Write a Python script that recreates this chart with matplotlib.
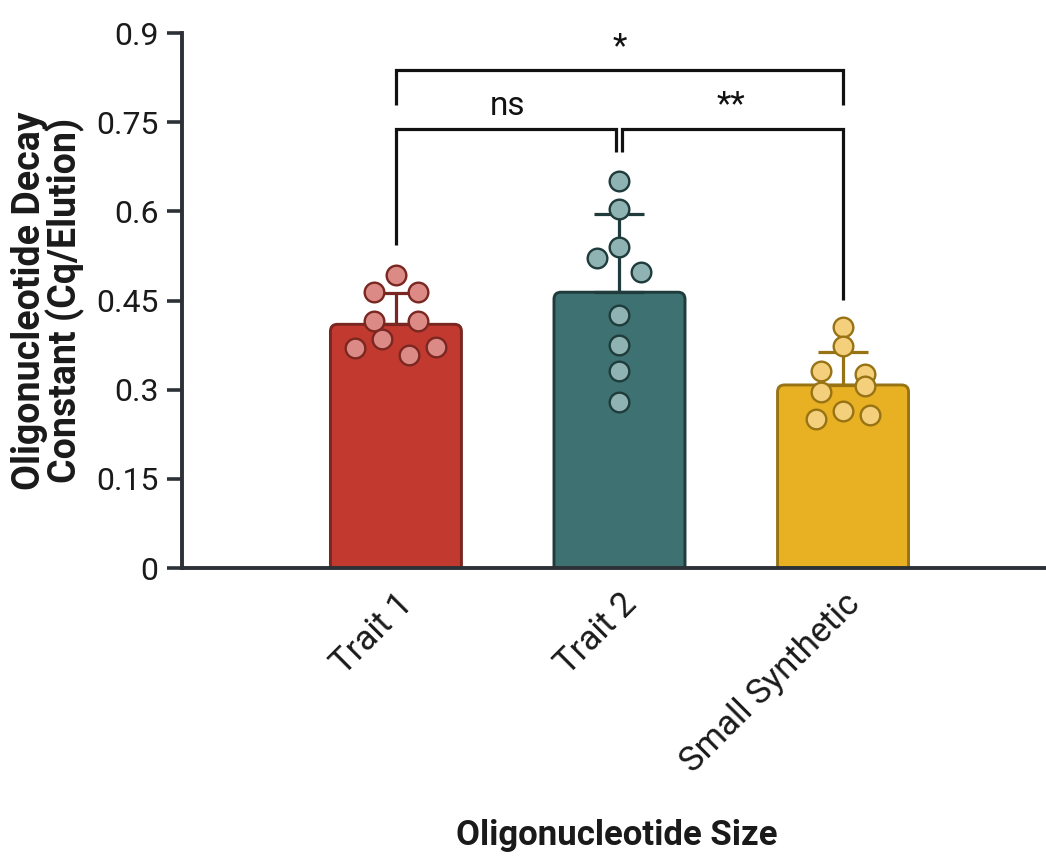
import numpy as np
import matplotlib

matplotlib.use("Agg")
import matplotlib.pyplot as plt
from matplotlib.patches import FancyBboxPatch

plt.rcParams["font.family"] = ["Roboto", "DejaVu Sans"]

categories = ["Trait 1", "Trait 2", "Small Synthetic"]
means = [0.410, 0.464, 0.308]
sd_upper = [0.463, 0.596, 0.363]
points = [
    [0.493, 0.464, 0.464, 0.416, 0.416, 0.370, 0.385, 0.358, 0.372],
    [0.651, 0.604, 0.540, 0.522, 0.498, 0.426, 0.375, 0.332, 0.279],
    [0.405, 0.373, 0.331, 0.326, 0.296, 0.306, 0.251, 0.264, 0.257],
]
yticks = [0, 0.15, 0.3, 0.45, 0.6, 0.75, 0.9]
ytick_labels = ["0", "0.15", "0.3", "0.45", "0.6", "0.75", "0.9"]
# (left group, right group, label)
comparisons = [(0, 1, "ns"), (1, 2, "**"), (0, 2, "*")]

bar_fill = ["#c1392f", "#3e7171", "#e8b023"]
bar_edge = ["#7a2621", "#1f3b3b", "#987314"]
dot_fill = ["#dc8a86", "#8fb2b2", "#f4cf7c"]
axis_color = "#2b3137"

fig = plt.figure(figsize=(10.46, 8.56), dpi=100)
ax = fig.add_axes([0.174, 0.3364, 0.8365, 0.625])
x = np.arange(len(categories))
ax.set_xlim(-0.957, 2.957)
ax.set_ylim(0, 0.9)

# pixel scale of data units, used for rounded corners and the scatter layout
px_x = ax.transData.transform((1, 0))[0] - ax.transData.transform((0, 0))[0]
px_y = ax.transData.transform((0, 1))[1] - ax.transData.transform((0, 0))[1]

width = 0.586
radius_px = 7
for i, m in enumerate(means):
    r = radius_px / px_x
    box = FancyBboxPatch(
        (x[i] - width / 2, -radius_px / px_y), width, m + radius_px / px_y,
        boxstyle=f"round,pad=0,rounding_size={r}",
        mutation_aspect=px_x / px_y,
        facecolor=bar_fill[i], edgecolor=bar_edge[i], linewidth=2.1, zorder=2,
    )
    ax.add_patch(box)
    ax.errorbar(x[i], m, yerr=[[0], [sd_upper[i] - m]], fmt="none",
                ecolor=bar_edge[i], elinewidth=2.3, capsize=18, capthick=2.3,
                zorder=3)


def row_offsets(values, thr=17):
    # points closer than thr pixels share a row and are spread sideways
    vals = np.asarray(values)
    order = np.argsort(vals, kind="stable")
    rows, cur = [], [order[0]]
    for k in order[1:]:
        if (vals[k] - vals[cur[0]]) * px_y < thr:
            cur.append(k)
        else:
            rows.append(cur)
            cur = [k]
    rows.append(cur)
    offs = np.zeros(len(vals))
    for row in rows:
        n = len(row)
        if n == 1:
            continue
        spread = max(44, 27 * (n - 1))
        row = sorted(row)
        for j, k in enumerate(row):
            offs[k] = (-spread / 2 + spread * j / (n - 1)) / px_x
    return offs


for i, vals in enumerate(points):
    offs = row_offsets(vals)
    ax.scatter(x[i] + offs, vals, s=200, facecolor=dot_fill[i],
               edgecolor=bar_edge[i], linewidth=1.7, zorder=4, clip_on=False)

# significance brackets
bracket = dict(color="#111111", lw=2.3, solid_capstyle="butt",
               solid_joinstyle="miter", clip_on=False, zorder=5)
gap = 3 / px_x
tops = {(0, 1): 0.739, (1, 2): 0.739, (0, 2): 0.838}
legs = {(0, 1): (0.543, 0.700), (1, 2): (0.700, 0.451), (0, 2): (0.779, 0.779)}
for a, b, lab in comparisons:
    yb = tops[(a, b)]
    la, lb = legs[(a, b)]
    xa = x[a] + (gap if a == 1 else 0)
    xb = x[b] - (gap if b == 1 else 0)
    ax.plot([xa, xa, xb, xb], [la, yb, yb, lb], **bracket)
    ax.text((x[a] + x[b]) / 2, yb + 0.012, lab, ha="center", va="bottom",
            fontsize=24, color="#111111")

ax.set_xticks(x)
ax.set_xticklabels(categories, rotation=45, ha="right", rotation_mode="anchor",
                   fontsize=25, color="#1a1a1a")
ax.set_yticks(yticks)
ax.set_yticklabels(ytick_labels, fontsize=23, color="#1a1a1a")
ax.tick_params(axis="x", length=0, pad=14)
ax.tick_params(axis="y", length=11, width=2.6, color=axis_color, pad=6)

for side in ["top", "right"]:
    ax.spines[side].set_visible(False)
for side in ["left", "bottom"]:
    ax.spines[side].set_linewidth(2.8)
    ax.spines[side].set_color(axis_color)

ax.set_ylabel("Oligonucleotide Decay\nConstant (Cq/Elution)", fontsize=27,
              fontweight="bold", linespacing=0.92, labelpad=8, color="#1a1a1a")
fig.text(617 / 1046, 1 - 835 / 856, "Oligonucleotide Size", ha="center",
         va="center", fontsize=25, fontweight="bold", color="#1a1a1a")

fig.savefig("out.png", dpi=100)
